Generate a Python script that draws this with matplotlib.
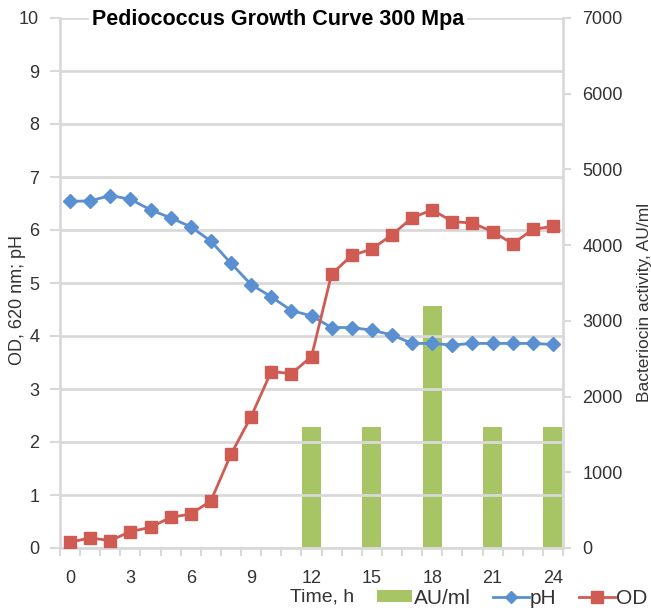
import numpy as np
import matplotlib.pyplot as plt
from matplotlib.lines import Line2D
from matplotlib.patches import Patch

plt.rcParams['font.family'] = ['Liberation Sans', 'DejaVu Sans']

# data
hours = list(range(25))
ph = [6.54, 6.55, 6.65, 6.58, 6.38, 6.23, 6.06, 5.79, 5.37, 4.97, 4.74,
      4.48, 4.38, 4.16, 4.16, 4.11, 4.02, 3.86, 3.86, 3.83, 3.86, 3.86,
      3.86, 3.86, 3.84]
od = [0.11, 0.19, 0.14, 0.31, 0.39, 0.58, 0.64, 0.89, 1.77, 2.48, 3.33,
      3.29, 3.61, 5.17, 5.52, 5.64, 5.91, 6.23, 6.38, 6.16, 6.13, 5.97,
      5.74, 6.01, 6.07]
au_hours = [12, 15, 18, 21, 24]
au_ml = [1600, 1600, 3200, 1600, 1600]

blue = '#5A8FD2'
red = '#D05B53'
green = '#A8C566'
grid_c = '#D9D9D9'
text_c = '#333333'

fig = plt.figure(figsize=(6.51, 6.12), dpi=100)
ax = fig.add_axes([60 / 651, 64 / 612, 503 / 651, 530 / 612])
ax2 = ax.twinx()

# bars on the secondary axis, drawn behind the lines
ax2.bar(au_hours, au_ml, width=0.95, color=green, zorder=1)
ax2.set_ylim(0, 7000)
ax2.set_yticks(range(0, 7001, 1000))

ax.set_zorder(ax2.get_zorder() + 1)
ax.patch.set_visible(False)

ax.plot(hours, ph, color=blue, lw=2, marker='D', ms=7.5, zorder=3)
ax.plot(hours, od, color=red, lw=2, marker='s', ms=9, zorder=3)

ax.set_xlim(-0.5, 24.5)
ax.set_ylim(0, 10)
ax.set_yticks(range(0, 11))
ax.set_xticks(range(0, 25, 3))
ax.set_xticks(np.arange(-0.5, 25, 1), minor=True)
ax.tick_params(axis='x', which='major', length=0, pad=16, labelsize=13, colors=text_c)
ax.tick_params(axis='x', which='minor', length=6, width=1.5, color=grid_c)
ax.tick_params(axis='y', length=7, width=1.5, color=grid_c, labelsize=13,
               labelcolor=text_c, pad=8)
ax2.tick_params(axis='y', length=6, width=1.5, color=grid_c, labelsize=13,
                labelcolor=text_c, pad=8)

ax.grid(axis='y', color=grid_c, lw=2)
for a in (ax, ax2):
    for s in a.spines.values():
        s.set_visible(False)
ax.spines['left'].set_visible(True)
ax.spines['left'].set_color(grid_c)
ax.spines['left'].set_linewidth(2)
ax.spines['bottom'].set_visible(True)
ax.spines['bottom'].set_color(grid_c)
ax.spines['bottom'].set_linewidth(2)
ax2.spines['right'].set_visible(True)
ax2.spines['right'].set_color(grid_c)
ax2.spines['right'].set_linewidth(2)

ax.text(0.434, 0.998, 'Pediococcus Growth Curve 300 Mpa', transform=ax.transAxes,
        ha='center', va='center', fontsize=15.5, fontweight='bold', color='black',
        bbox=dict(facecolor='white', edgecolor='none', pad=2), zorder=5)

fig.text(18 / 651, 1 - 300 / 612, 'OD, 620 nm; pH', rotation=90, ha='center',
         va='center', fontsize=13, color=text_c)
fig.text(645 / 651, 1 - 302 / 612, 'Bacteriocin activity, AU/ml', rotation=90,
         ha='center', va='center', fontsize=12.5, color=text_c)
fig.text(322 / 651, 1 - 597 / 612, 'Time, h', ha='center', va='center',
         fontsize=14, color=text_c)

handles = [Patch(facecolor=green, edgecolor='none'),
           Line2D([], [], color=blue, lw=2, marker='D', ms=6),
           Line2D([], [], color=red, lw=2, marker='s', ms=8)]
fig.legend(handles, ['AU/ml', 'pH', 'OD'], loc='center left',
           bbox_to_anchor=(377 / 651, 1 - 598 / 612), ncol=3, frameon=False,
           fontsize=15, handlelength=1.7, handleheight=0.55, handletextpad=0.05,
           columnspacing=1.1, borderaxespad=0, borderpad=0, labelcolor=text_c)

fig.savefig('out.png', dpi=100)
